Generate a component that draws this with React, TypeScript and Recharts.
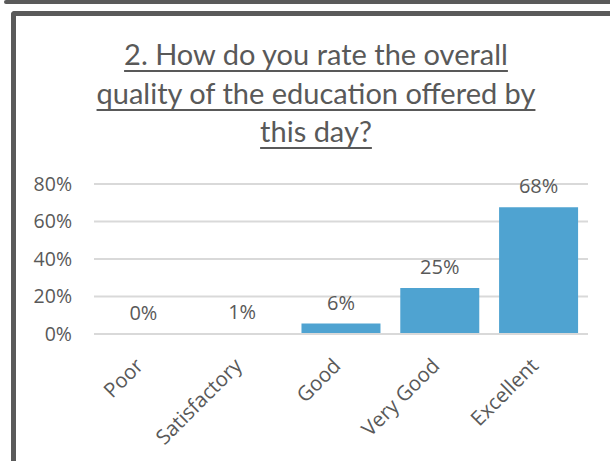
import React from "react";
import { BarChart, Bar, XAxis, YAxis, CartesianGrid, LabelList, ReferenceLine } from "recharts";

const categories = ["Poor", "Satisfactory", "Good", "Very Good", "Excellent"];
const percentValues = [0, 0.6, 5.6, 24.5, 67.6];
const yTicks = [0, 20, 40, 60, 80];
const titleLines = [
  "2. How do you rate the overall",
  "quality of the education offered by",
  "this day?",
];

const data = categories.map((c, i) => ({ name: c, value: percentValues[i] }));

const GRAY = "#595959";
const BAR = "#4FA3D1";
const TICK_FONT = "'Open Sans', sans-serif";

const XTick = (props: any) => {
  const { x, y, payload } = props;
  const ax = x + 1;
  const ay = y + 33;
  return (
    <text
      x={ax}
      y={ay}
      transform={`rotate(-45 ${ax} ${ay})`}
      textAnchor="end"
      fill={GRAY}
      fontSize={20.5}
      fontFamily={TICK_FONT}
    >
      {payload.value}
    </text>
  );
};

export default function App() {
  return (
    <div
      style={{
        position: "fixed",
        left: 0,
        top: 0,
        width: 610,
        height: 461,
        background: "#fff",
        overflow: "hidden",
      }}
    >
      <div
        style={{
          position: "absolute",
          left: 4,
          top: 0,
          width: 620,
          height: 4,
          background: "#5a5a5a",
          borderRadius: 2,
        }}
      />
      <div
        style={{
          position: "absolute",
          left: 11,
          top: 11,
          width: 620,
          height: 470,
          borderLeft: "5px solid #5a5a5a",
          borderTop: "5px solid #5a5a5a",
          borderTopLeftRadius: 4,
          boxSizing: "border-box",
        }}
      />
      <div
        style={{
          position: "absolute",
          left: 16,
          top: 35,
          width: 600,
          textAlign: "center",
          fontFamily: "Lato, sans-serif",
          fontSize: 29,
          lineHeight: "38.5px",
          letterSpacing: 0,
          color: GRAY,
        }}
      >
        {titleLines.map((l, i) => (
          <div key={i}>
            <span style={{ textDecoration: "underline", textDecorationThickness: 1.5, textUnderlineOffset: 5 }}>{l}</span>
          </div>
        ))}
      </div>
      <div style={{ position: "absolute", left: 0, top: 0 }}>
        <BarChart
          width={610}
          height={461}
          data={data}
          margin={{ top: 184, right: 22, bottom: 0, left: 0 }}
          barCategoryGap="10%"
        >
          <CartesianGrid vertical={false} stroke="#d9d9d9" strokeWidth={2} />
          <XAxis
            dataKey="name"
            axisLine={false}
            tickLine={false}
            tickSize={0}
            tickMargin={0}
            height={127}
            interval={0}
            tick={<XTick />}
          />
          <YAxis
            domain={[0, 80]}
            ticks={yTicks}
            width={94}
            axisLine={false}
            tickLine={false}
            tickSize={0}
            tickMargin={22}
            tickFormatter={(v: number) => `${v}%`}
            tick={{ fill: GRAY, fontSize: 19.5, fontFamily: TICK_FONT }}
          />
          <Bar dataKey="value" fill={BAR} isAnimationActive={false} minPointSize={0.1}>
            <LabelList
              dataKey="value"
              position="top"
              offset={14}
              formatter={(v: number) => `${Math.round(v)}%`}
              fill={GRAY}
              fontSize={20}
              fontFamily={TICK_FONT}
            />
          </Bar>
          <ReferenceLine y={0} stroke="#d9d9d9" strokeWidth={2} />
        </BarChart>
      </div>
    </div>
  );
}
